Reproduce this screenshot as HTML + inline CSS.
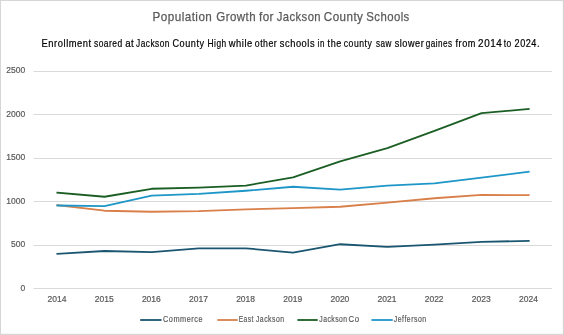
<!DOCTYPE html>
<html><head><meta charset="utf-8"><style>
html,body{margin:0;padding:0;background:#fff;}
.wrap{position:relative;width:564px;height:335px;overflow:hidden;background:#fff;}
svg{display:block;position:absolute;left:0;top:0;}
.t{will-change:transform;}
text{font-family:"Liberation Sans",sans-serif;}
.ax{font-size:8.5px;fill:#595959;stroke:#595959;stroke-width:0.2px;}
.lg{font-size:8.2px;fill:#595959;stroke:#595959;stroke-width:0.18px;letter-spacing:0.6px;}
.tt{font-size:12.8px;fill:#595959;stroke:#595959;stroke-width:0.25px;letter-spacing:0.5px;}
.st{font-size:10.2px;fill:#000;stroke:#000;stroke-width:0.2px;letter-spacing:0.6px;}
</style></head><body><div class="wrap">
<svg width="564" height="335" viewBox="0 0 564 335">
<rect x="0" y="0" width="564" height="1" fill="#d6d6d6"/>
<rect x="0" y="0" width="1" height="335" fill="#d6d6d6"/>
<rect x="562.8" y="0" width="1.2" height="335" fill="#d6d6d6"/>
<rect x="0" y="333.85" width="564" height="1.15" fill="#d6d6d6"/>
<rect x="33.4" y="71" width="518.8" height="1" fill="#d9d9d9"/>
<rect x="33.4" y="114" width="518.8" height="1" fill="#d9d9d9"/>
<rect x="33.4" y="158" width="518.8" height="1" fill="#d9d9d9"/>
<rect x="33.4" y="201" width="518.8" height="1" fill="#d9d9d9"/>
<rect x="33.4" y="245" width="518.8" height="1" fill="#d9d9d9"/>
<rect x="33.4" y="288" width="518.8" height="1" fill="#d9d9d9"/>
<polyline points="57.37,253.78 104.50,251.00 151.64,252.22 198.78,248.31 245.91,248.31 293.05,252.56 340.19,244.23 387.32,246.92 434.46,244.58 481.60,241.89 528.73,240.85" fill="none" stroke="#1A5670" stroke-width="1.8" stroke-linejoin="round" stroke-linecap="square"/>
<polyline points="57.37,205.17 104.50,210.73 151.64,211.77 198.78,211.16 245.91,209.43 293.05,208.21 340.19,206.73 387.32,202.65 434.46,198.23 481.60,194.93 528.73,195.10" fill="none" stroke="#D97F4A" stroke-width="1.8" stroke-linejoin="round" stroke-linecap="square"/>
<polyline points="57.37,192.76 104.50,196.75 151.64,188.77 198.78,187.64 245.91,185.64 293.05,177.31 340.19,161.34 387.32,148.06 434.46,130.96 481.60,113.16 528.73,109.00" fill="none" stroke="#1B5E23" stroke-width="1.8" stroke-linejoin="round" stroke-linecap="square"/>
<polyline points="57.37,205.52 104.50,206.13 151.64,195.54 198.78,193.89 245.91,190.76 293.05,186.77 340.19,189.63 387.32,185.64 434.46,183.47 481.60,177.57 528.73,171.84" fill="none" stroke="#1E97C8" stroke-width="1.8" stroke-linejoin="round" stroke-linecap="square"/>
<rect x="140.2" y="319.1" width="21.3" height="1.8" fill="#1A5670"/>
<rect x="217.4" y="319.1" width="20.3" height="1.8" fill="#D97F4A"/>
<rect x="297.4" y="319.1" width="20.3" height="1.8" fill="#1B5E23"/>
<rect x="371.4" y="319.1" width="21.3" height="1.8" fill="#1E97C8"/>
</svg>
<svg class="t" width="564" height="335" viewBox="0 0 564 335">
<text x="25.2" y="73.2" text-anchor="end" class="ax">2500</text>
<text x="25.2" y="117.2" text-anchor="end" class="ax">2000</text>
<text x="25.2" y="160.2" text-anchor="end" class="ax">1500</text>
<text x="25.2" y="204.2" text-anchor="end" class="ax">1000</text>
<text x="25.2" y="247.2" text-anchor="end" class="ax">500</text>
<text x="25.2" y="291.2" text-anchor="end" class="ax">0</text>
<text x="57.07" y="302.1" text-anchor="middle" class="ax">2014</text>
<text x="104.20" y="302.1" text-anchor="middle" class="ax">2015</text>
<text x="151.34" y="302.1" text-anchor="middle" class="ax">2016</text>
<text x="198.48" y="302.1" text-anchor="middle" class="ax">2017</text>
<text x="245.61" y="302.1" text-anchor="middle" class="ax">2018</text>
<text x="292.75" y="302.1" text-anchor="middle" class="ax">2019</text>
<text x="339.89" y="302.1" text-anchor="middle" class="ax">2020</text>
<text x="387.02" y="302.1" text-anchor="middle" class="ax">2021</text>
<text x="434.16" y="302.1" text-anchor="middle" class="ax">2022</text>
<text x="481.30" y="302.1" text-anchor="middle" class="ax">2023</text>
<text x="528.43" y="302.1" text-anchor="middle" class="ax">2024</text>
<text x="152.54" y="20.6" class="tt" textLength="59.76" lengthAdjust="spacingAndGlyphs">Population</text>
<text x="216.22" y="20.6" class="tt" textLength="39.85" lengthAdjust="spacingAndGlyphs">Growth</text>
<text x="258.94" y="20.6" class="tt" textLength="15.02" lengthAdjust="spacingAndGlyphs">for</text>
<text x="276.72" y="20.6" class="tt" textLength="44.34" lengthAdjust="spacingAndGlyphs">Jackson</text>
<text x="323.82" y="20.6" class="tt" textLength="39.56" lengthAdjust="spacingAndGlyphs">County</text>
<text x="366.28" y="20.6" class="tt" textLength="43.47" lengthAdjust="spacingAndGlyphs">Schools</text>
<text x="41.58" y="46.8" class="st" textLength="50.19" lengthAdjust="spacingAndGlyphs">Enrollment</text>
<text x="93.91" y="46.8" class="st" textLength="28.87" lengthAdjust="spacingAndGlyphs">soared</text>
<text x="125.14" y="46.8" class="st" textLength="9.26" lengthAdjust="spacingAndGlyphs">at</text>
<text x="136.12" y="46.8" class="st" textLength="33.75" lengthAdjust="spacingAndGlyphs">Jackson</text>
<text x="172.49" y="46.8" class="st" textLength="32.11" lengthAdjust="spacingAndGlyphs">County</text>
<text x="207.56" y="46.8" class="st" textLength="19.22" lengthAdjust="spacingAndGlyphs">High</text>
<text x="228.67" y="46.8" class="st" textLength="24.15" lengthAdjust="spacingAndGlyphs">while</text>
<text x="254.78" y="46.8" class="st" textLength="22.53" lengthAdjust="spacingAndGlyphs">other</text>
<text x="279.79" y="46.8" class="st" textLength="35.35" lengthAdjust="spacingAndGlyphs">schools</text>
<text x="317.62" y="46.8" class="st" textLength="7.23" lengthAdjust="spacingAndGlyphs">in</text>
<text x="327.62" y="46.8" class="st" textLength="14.16" lengthAdjust="spacingAndGlyphs">the</text>
<text x="343.79" y="46.8" class="st" textLength="28.49" lengthAdjust="spacingAndGlyphs">county</text>
<text x="376.02" y="46.8" class="st" textLength="15.89" lengthAdjust="spacingAndGlyphs">saw</text>
<text x="394.69" y="46.8" class="st" textLength="29.55" lengthAdjust="spacingAndGlyphs">slower</text>
<text x="425.71" y="46.8" class="st" textLength="26.92" lengthAdjust="spacingAndGlyphs">gaines</text>
<text x="455.52" y="46.8" class="st" textLength="20.45" lengthAdjust="spacingAndGlyphs">from</text>
<text x="478.05" y="46.8" class="st" textLength="24.36" lengthAdjust="spacingAndGlyphs">2014</text>
<text x="503.73" y="46.8" class="st" textLength="8.07" lengthAdjust="spacingAndGlyphs">to</text>
<text x="514.60" y="46.8" class="st" textLength="25.43" lengthAdjust="spacingAndGlyphs">2024.</text>
<text x="163.03" y="321.6" class="lg" textLength="40.02" lengthAdjust="spacingAndGlyphs">Commerce</text>
<text x="238.66" y="321.6" class="lg" textLength="15.17" lengthAdjust="spacingAndGlyphs">East</text>
<text x="255.89" y="321.6" class="lg" textLength="28.76" lengthAdjust="spacingAndGlyphs">Jackson</text>
<text x="319.29" y="321.6" class="lg" textLength="28.34" lengthAdjust="spacingAndGlyphs">Jackson</text>
<text x="348.51" y="321.6" class="lg" textLength="11.09" lengthAdjust="spacingAndGlyphs">Co</text>
<text x="393.79" y="321.6" class="lg" textLength="32.85" lengthAdjust="spacingAndGlyphs">Jefferson</text>
</svg>
</div></body></html>
